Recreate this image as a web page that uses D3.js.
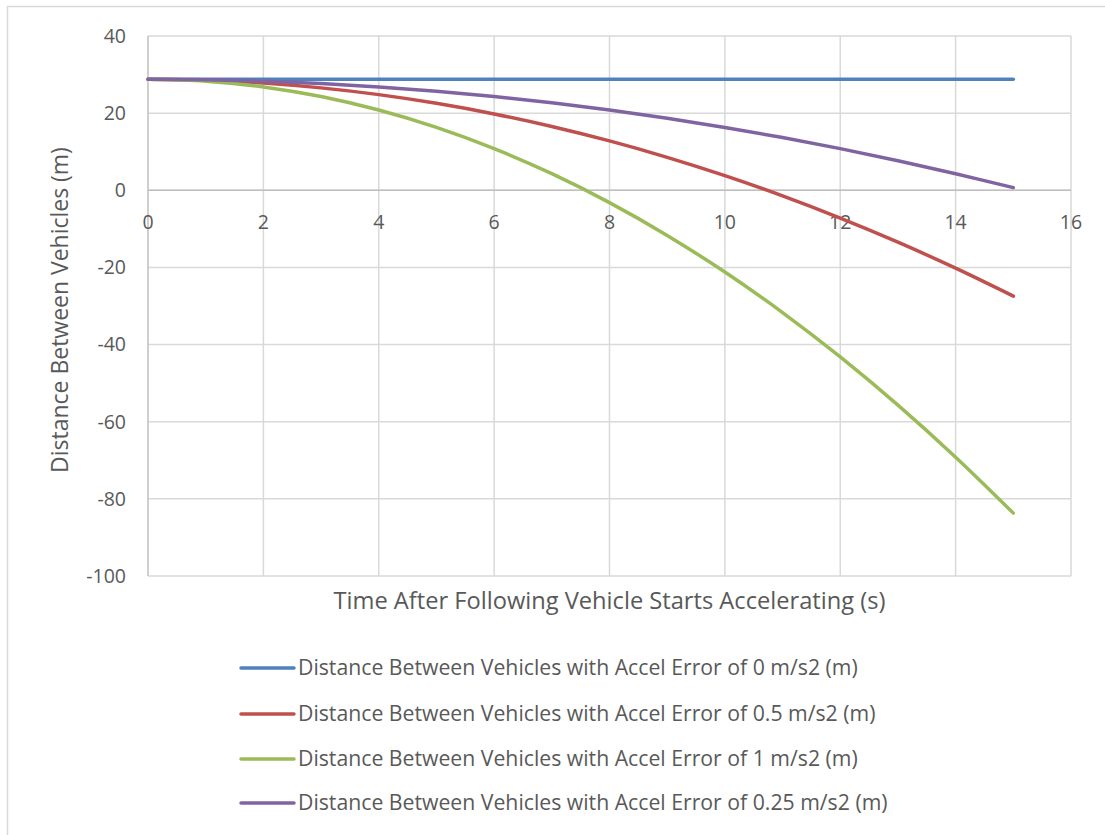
<!DOCTYPE html>
<html>
<head>
<meta charset="utf-8">
<script src="https://cdn.jsdelivr.net/npm/d3@7"></script>
<style>
  html, body { margin: 0; padding: 0; background: #fff; }
  svg { display: block; }
  text { font-family: "Open Sans", Lato, sans-serif; fill: #595959; }
</style>
</head>
<body>
<svg id="chart" width="1105" height="835"></svg>
<script>
// Time after the following vehicle starts accelerating (s)
const times = [0, 1, 2, 3, 4, 5, 6, 7, 8, 9, 10, 11, 12, 13, 14, 15];

// Gap between the vehicles (m) for each acceleration error
const gapErr0   = [28.8, 28.8, 28.8, 28.8, 28.8, 28.8, 28.8, 28.8, 28.8, 28.8, 28.8, 28.8, 28.8, 28.8, 28.8, 28.8];
const gapErr05  = [28.8, 28.55, 27.8, 26.55, 24.8, 22.55, 19.8, 16.55, 12.8, 8.55, 3.8, -1.45, -7.2, -13.45, -20.2, -27.45];
const gapErr1   = [28.8, 28.3, 26.8, 24.3, 20.8, 16.3, 10.8, 4.3, -3.2, -11.7, -21.2, -31.7, -43.2, -55.7, -69.2, -83.7];
const gapErr025 = [28.8, 28.68, 28.3, 27.68, 26.8, 25.68, 24.3, 22.68, 20.8, 18.68, 16.3, 13.68, 10.8, 7.68, 4.3, 0.68];

const seriesNames = [
  "Distance Between Vehicles with Accel Error of 0 m/s2 (m)",
  "Distance Between Vehicles with Accel Error of 0.5 m/s2 (m)",
  "Distance Between Vehicles with Accel Error of 1 m/s2 (m)",
  "Distance Between Vehicles with Accel Error of 0.25 m/s2 (m)"
];
const seriesColors = ["#4F81BD", "#C0504D", "#9BBB59", "#8064A2"];
const seriesValues = [gapErr0, gapErr05, gapErr1, gapErr025];

const xTicks = [0, 2, 4, 6, 8, 10, 12, 14, 16];
const yTicks = [40, 20, 0, -20, -40, -60, -80, -100];

const xTitle = "Time After Following Vehicle Starts Accelerating (s)";
const yTitle = "Distance Between Vehicles (m)";

const svg = d3.select("#chart");

// Scale a text's font size so the string spans the wanted width
function fitWidth(sel, width) {
  sel.each(function () {
    const size = parseFloat(this.getAttribute("font-size"));
    const w = this.getComputedTextLength();
    if (w > 0) this.setAttribute("font-size", (size * width / w).toFixed(2));
  });
}

// Outer chart frame
svg.append("rect")
  .attr("x", 7.5).attr("y", 6.5)
  .attr("width", 1300).attr("height", 1000)
  .attr("fill", "#fff").attr("stroke", "#D9D9D9").attr("stroke-width", 1.5);

const plot = { left: 148, right: 1071, top: 36, bottom: 576 };

const x = d3.scaleLinear().domain([0, 16]).range([plot.left, plot.right]);
const y = d3.scaleLinear().domain([-100, 40]).range([plot.bottom, plot.top]);

// Gridlines
const grid = svg.append("g").attr("class", "grid");
grid.selectAll("line.v").data(xTicks.slice(1)).join("line")
  .attr("x1", d => x(d)).attr("x2", d => x(d))
  .attr("y1", plot.top).attr("y2", plot.bottom)
  .attr("stroke", "#D9D9D9").attr("stroke-width", 1.5);
grid.selectAll("line.h").data(yTicks).join("line")
  .attr("x1", plot.left).attr("x2", plot.right)
  .attr("y1", d => y(d)).attr("y2", d => y(d))
  .attr("stroke", "#D9D9D9").attr("stroke-width", 1.5);

// Value axis (vertical) line at x = 0
svg.append("line")
  .attr("x1", x(0)).attr("x2", x(0))
  .attr("y1", plot.top).attr("y2", plot.bottom)
  .attr("stroke", "#BFBFBF").attr("stroke-width", 1.5);
// Category axis line at y = 0
svg.append("line")
  .attr("x1", plot.left).attr("x2", plot.right)
  .attr("y1", y(0)).attr("y2", y(0))
  .attr("stroke", "#BFBFBF").attr("stroke-width", 1.5);

// Y tick labels
svg.append("g").selectAll("text").data(yTicks).join("text")
  .attr("x", plot.left - 22).attr("y", d => y(d))
  .attr("dy", "0.35em").attr("text-anchor", "end")
  .attr("font-size", 19.5)
  .text(d => d);

// X tick labels, hanging just below the zero line
svg.append("g").selectAll("text").data(xTicks).join("text")
  .attr("x", d => x(d)).attr("y", y(0) + 39)
  .attr("text-anchor", "middle")
  .attr("font-size", 19.5)
  .text(d => d);

// Axis titles
svg.append("text")
  .attr("x", (plot.left + plot.right) / 2).attr("y", 609)
  .attr("text-anchor", "middle").attr("font-size", 21)
  .text(xTitle)
  .call(fitWidth, 552);
svg.append("text")
  .attr("transform", `translate(68, 310) rotate(-90)`)
  .attr("text-anchor", "middle").attr("font-size", 21)
  .text(yTitle)
  .call(fitWidth, 326);

// Series lines
const line = d3.line()
  .x((d, i) => x(times[i]))
  .y(d => y(d))
  .curve(d3.curveCatmullRom);

svg.append("g").selectAll("path").data(seriesValues).join("path")
  .attr("d", d => line(d))
  .attr("fill", "none")
  .attr("stroke", (d, i) => seriesColors[i])
  .attr("stroke-width", 3.5)
  .attr("stroke-linecap", "round")
  .attr("stroke-linejoin", "round");

// Legend
const legendY = [668, 714, 759, 803];
const legend = svg.append("g").selectAll("g").data(seriesNames).join("g")
  .attr("transform", (d, i) => `translate(0, ${legendY[i]})`);
legend.append("line")
  .attr("x1", 241).attr("x2", 294).attr("y1", 0).attr("y2", 0)
  .attr("stroke", (d, i) => seriesColors[i])
  .attr("stroke-width", 3.5).attr("stroke-linecap", "round");
const legendText = legend.append("text")
  .attr("x", 298).attr("y", 0).attr("dy", "0.35em")
  .attr("font-size", 18.5)
  .text(d => d);
// All legend entries share the size that fits the first one
fitWidth(legendText.filter((d, i) => i === 0), 560);
legendText.attr("font-size", legendText.node().getAttribute("font-size"));
</script>
</body>
</html>
